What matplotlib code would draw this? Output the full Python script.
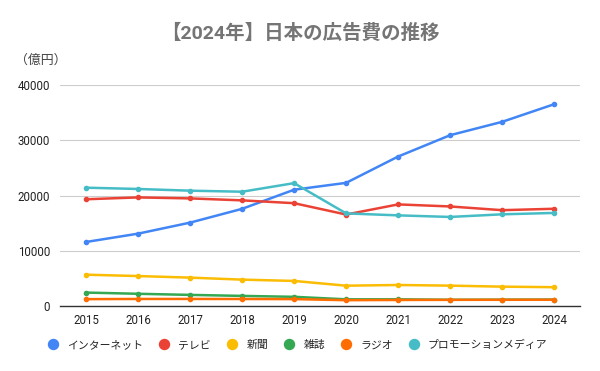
import matplotlib.pyplot as plt

plt.rcParams['font.family'] = ['Roboto', 'Noto Sans CJK JP', 'DejaVu Sans']

years = [2015, 2016, 2017, 2018, 2019, 2020, 2021, 2022, 2023, 2024]

internet = [11594, 13100, 15094, 17589, 21048, 22290, 27052, 30912, 33330, 36517]
tv = [19323, 19657, 19478, 19123, 18612, 16559, 18393, 18019, 17347, 17605]
newspaper = [5679, 5431, 5147, 4784, 4547, 3688, 3815, 3697, 3512, 3417]
magazine = [2443, 2223, 2023, 1841, 1675, 1223, 1224, 1140, 1163, 1179]
radio = [1254, 1285, 1290, 1278, 1260, 1066, 1106, 1129, 1139, 1150]
promotion = [21417, 21184, 20875, 20685, 22239, 16768, 16408, 16124, 16599, 16848]

series_names = ['インターネット', 'テレビ', '新聞', '雑誌', 'ラジオ', 'プロモーションメディア']
series_values = [internet, tv, newspaper, magazine, radio, promotion]
colors = ['#4285F4', '#EA4335', '#FBBC04', '#34A853', '#FF6D01', '#46BDC6']

y_ticks = [0, 10000, 20000, 30000, 40000]

fig = plt.figure(figsize=(6, 3.71), dpi=100)
ax = fig.add_axes([0.1, 0.175, 0.867, 0.596])

for name, vals, c in zip(series_names, series_values, colors):
    ax.plot(years, vals, color=c, linewidth=1.8, marker='o', markersize=3,
            label=name, zorder=3)

ax.set_xlim(2014.5, 2024.5)
ax.set_ylim(0, 40000)
ax.set_xticks(years)
ax.set_yticks(y_ticks)
ax.set_xticklabels([str(y) for y in years])
ax.grid(True, axis='y', color='#cccccc', linewidth=0.8, zorder=0)
for s in ['top', 'right', 'left']:
    ax.spines[s].set_visible(False)
ax.spines['bottom'].set_color('#333333')
ax.spines['bottom'].set_linewidth(1)
ax.spines['bottom'].set_zorder(4)
ax.tick_params(length=0, labelsize=8.3, colors='#222222', pad=6)
ax.tick_params(axis='y', pad=7)

# タイトルと単位
fig.text(0.5, 0.91, '【2024年】日本の広告費の推移', ha='center', va='center',
         fontsize=14, fontweight='bold', color='#757575')
fig.text(0.025, 0.838, '（億円）', ha='left', va='center', fontsize=9.3, color='#444444')

leg = fig.legend(loc='center', bbox_to_anchor=(0.497, 0.07), ncol=6, frameon=False,
                 fontsize=7.8, handlelength=0.8, handletextpad=0.9, columnspacing=1.55,
                 markerscale=2.4)
for h in leg.legend_handles:
    h.set_linestyle('none')
for t in leg.get_texts():
    t.set_color('#222222')

fig.savefig('out.png', dpi=100)
